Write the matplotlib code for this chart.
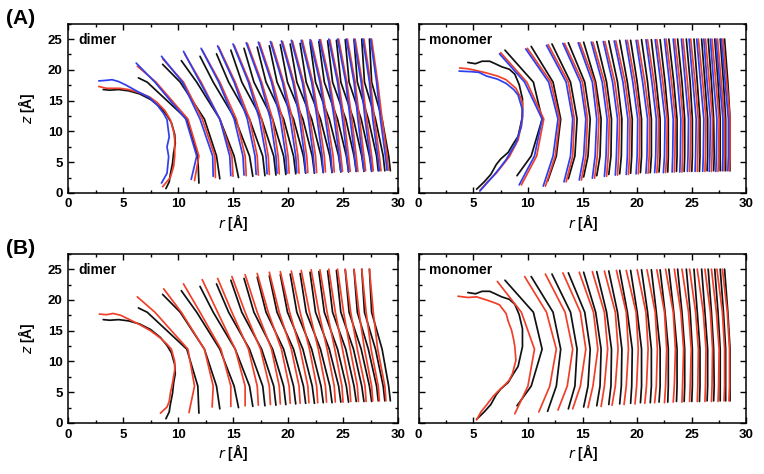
import matplotlib.pyplot as plt
from matplotlib.ticker import MultipleLocator

plt.rcParams['font.family'] = ['Liberation Sans', 'DejaVu Sans']

BLUE = "#2f3ff0"
RED = "#f0402a"
BLACK = "#111111"

# z levels at which the inner points of every curve are read
Z_MID = [18, 12, 6]

# ---------------- dimer, reference (black), used in (A) and (B)
dim_black_first_r = [3.2, 3.8, 4.6, 5.5, 6.5, 7.5, 8.4, 9.0, 9.4, 9.7, 9.75, 9.6, 9.5, 9.3, 9.2, 8.9]
dim_black_first_z = [16.8, 16.7, 16.8, 16.6, 16.1, 15.2, 13.9, 12.6, 11.4, 9.5, 8.0, 6.5, 4.8, 3.0, 1.8, 0.7]
dim_black_rt = [6.4, 8.6, 10.3, 12.0, 13.5, 14.8, 16.0, 17.2, 18.3, 19.3, 20.2, 21.1, 22.0, 22.8, 23.6, 24.4, 25.2, 26.0, 26.7, 27.4]
dim_black_zt = [18.7, 20.9, 21.5, 22.2, 22.6, 23.2, 23.5, 23.7, 23.9, 24.1, 24.2, 24.3, 24.5, 24.6, 24.7, 24.8, 24.9, 24.9, 25.0, 25.0]
dim_black_r18 = [7.2, 10.2, 11.7, 13.2, 14.6, 15.8, 16.9, 18.0, 19.0, 19.95, 20.8, 21.65, 22.5, 23.3, 24.05, 24.8, 25.55, 26.3, 26.95, 27.6]
dim_black_r12 = [10.8, 12.4, 13.8, 15.2, 16.5, 17.6, 18.6, 19.6, 20.5, 21.35, 22.15, 22.95, 23.75, 24.5, 25.25, 25.95, 26.65, 27.3, 27.95, 28.55]
dim_black_r6 = [11.8, 13.5, 15.1, 16.5, 17.7, 18.7, 19.6, 20.5, 21.4, 22.2, 23.0, 23.8, 24.6, 25.3, 26.0, 26.7, 27.4, 28.05, 28.65, 29.15]
dim_black_rb = [11.9, 13.8, 15.5, 16.8, 17.9, 18.9, 19.8, 20.7, 21.6, 22.4, 23.2, 24.0, 24.8, 25.5, 26.2, 26.9, 27.6, 28.2, 28.8, 29.3]
dim_black_zb = [1.6, 2.3, 2.5, 2.7, 2.8, 2.9, 3.0, 3.1, 3.2, 3.2, 3.3, 3.3, 3.4, 3.4, 3.5, 3.5, 3.5, 3.6, 3.6, 3.6]

# ---------------- dimer (A), blue
a_dim_blue_first_r = [2.8, 3.5, 4.0, 4.6, 5.3, 6.5, 7.4, 8.1, 8.7, 9.0, 9.2, 9.0, 9.15, 9.0, 8.5]
a_dim_blue_first_z = [18.2, 18.3, 18.4, 18.1, 17.5, 16.3, 15.5, 14.3, 12.9, 11.9, 9.1, 7.5, 5.9, 3.2, 1.6]
a_dim_blue_rt = [6.2, 8.5, 10.5, 12.1, 13.6, 15.0, 16.2, 17.3, 18.4, 19.4, 20.3, 21.2, 22.0, 22.85, 23.7, 24.5, 25.3, 26.0, 26.8, 27.5]
a_dim_blue_zt = [21.1, 22.2, 23.0, 23.5, 23.9, 24.2, 24.4, 24.5, 24.6, 24.7, 24.8, 24.8, 24.9, 24.9, 25.0, 25.0, 25.0, 25.0, 25.0, 25.0]
a_dim_blue_r18 = [7.9, 10.4, 12.0, 13.7, 15.1, 16.4, 17.5, 18.5, 19.5, 20.45, 21.3, 22.15, 22.9, 23.7, 24.5, 25.25, 26.0, 26.65, 27.4, 28.05]
a_dim_blue_r12 = [10.7, 12.0, 13.8, 15.1, 16.3, 17.4, 18.4, 19.3, 20.2, 21.05, 21.85, 22.65, 23.4, 24.2, 24.95, 25.65, 26.35, 27.0, 27.7, 28.4]
a_dim_blue_r6 = [11.7, 13.15, 14.7, 15.9, 17.0, 18.0, 18.9, 19.8, 20.7, 21.5, 22.3, 23.1, 23.9, 24.65, 25.35, 26.05, 26.75, 27.45, 28.15, 28.85]
a_dim_blue_rb = [11.2, 13.2, 14.8, 16.0, 17.1, 18.1, 19.0, 19.9, 20.8, 21.6, 22.4, 23.2, 24.0, 24.8, 25.5, 26.2, 26.9, 27.6, 28.3, 29.0]
a_dim_blue_zb = [2.2, 2.7, 2.8, 2.9, 3.0, 3.1, 3.2, 3.2, 3.3, 3.3, 3.4, 3.4, 3.4, 3.5, 3.5, 3.5, 3.6, 3.6, 3.6, 3.7]

# ---------------- dimer (A), red
a_dim_red_first_r = [2.8, 3.5, 4.7, 5.5, 6.5, 7.4, 8.1, 8.8, 9.3, 9.6, 9.7, 9.7, 9.6, 9.3, 8.6]
a_dim_red_first_z = [17.3, 17.0, 17.0, 16.8, 16.3, 15.6, 14.7, 13.4, 11.9, 10.0, 8.6, 6.0, 4.3, 2.5, 1.0]
a_dim_red_rt = [6.3, 8.6, 10.6, 12.2, 13.7, 15.1, 16.3, 17.4, 18.5, 19.5, 20.4, 21.3, 22.1, 22.95, 23.8, 24.6, 25.4, 26.1, 26.9, 27.6]
a_dim_red_zt = [20.6, 21.8, 22.6, 23.2, 23.7, 24.0, 24.3, 24.4, 24.5, 24.6, 24.7, 24.8, 24.8, 24.9, 24.9, 25.0, 25.0, 25.0, 25.0, 25.0]
a_dim_red_r18 = [8.0, 10.5, 12.1, 13.8, 15.2, 16.5, 17.6, 18.6, 19.6, 20.55, 21.4, 22.25, 23.0, 23.8, 24.6, 25.35, 26.1, 26.75, 27.5, 28.15]
a_dim_red_r12 = [10.9, 12.2, 13.8, 15.3, 16.5, 17.6, 18.6, 19.5, 20.4, 21.2, 22.0, 22.8, 23.55, 24.35, 25.1, 25.8, 26.5, 27.15, 27.85, 28.55]
a_dim_red_r6 = [11.9, 13.35, 14.9, 16.1, 17.2, 18.2, 19.1, 20.0, 20.9, 21.7, 22.5, 23.3, 24.1, 24.8, 25.5, 26.2, 26.9, 27.6, 28.3, 29.0]
a_dim_red_rb = [11.5, 13.4, 15.0, 16.2, 17.3, 18.3, 19.2, 20.1, 21.0, 21.8, 22.6, 23.4, 24.2, 24.95, 25.65, 26.35, 27.05, 27.75, 28.45, 29.1]
a_dim_red_zb = [2.0, 2.5, 2.7, 2.8, 2.9, 3.0, 3.1, 3.2, 3.2, 3.3, 3.3, 3.4, 3.4, 3.5, 3.5, 3.5, 3.6, 3.6, 3.6, 3.7]

# ---------------- dimer (B), red
b_dim_red_first_r = [2.85, 3.5, 4.1, 4.8, 5.6, 6.5, 7.5, 8.4, 9.0, 9.4, 9.7, 9.7, 9.5, 9.3, 9.2, 9.0, 8.4]
b_dim_red_first_z = [17.7, 17.6, 17.8, 17.5, 16.8, 16.0, 15.0, 13.8, 12.8, 12.0, 10.0, 8.6, 6.5, 4.8, 3.5, 2.6, 1.6]
b_dim_red_rt = [6.3, 8.7, 10.5, 12.2, 13.6, 14.9, 16.1, 17.2, 18.3, 19.3, 20.3, 21.2, 22.1, 22.9, 23.7, 24.5, 25.2, 26.0, 26.7, 27.4]
b_dim_red_zt = [20.5, 21.8, 22.6, 23.3, 23.5, 23.8, 24.1, 24.3, 24.5, 24.6, 24.7, 24.8, 24.9, 24.9, 25.0, 25.0, 25.0, 25.0, 25.0, 25.0]
b_dim_red_r18 = [7.9, 10.3, 12.0, 13.6, 14.9, 16.1, 17.2, 18.2, 19.2, 20.15, 21.1, 21.95, 22.8, 23.55, 24.3, 25.05, 25.7, 26.45, 27.1, 27.75]
b_dim_red_r12 = [10.9, 12.4, 13.9, 15.2, 16.4, 17.5, 18.5, 19.4, 20.3, 21.1, 21.95, 22.75, 23.55, 24.25, 24.95, 25.65, 26.3, 26.95, 27.55, 28.15]
b_dim_red_r6 = [11.5, 13.2, 14.8, 16.1, 17.2, 18.3, 19.2, 20.1, 21.0, 21.8, 22.6, 23.4, 24.2, 24.9, 25.6, 26.3, 27.0, 27.6, 28.2, 28.8]
b_dim_red_rb = [11.0, 13.1, 14.8, 16.1, 17.3, 18.4, 19.3, 20.2, 21.1, 21.9, 22.7, 23.5, 24.3, 25.0, 25.7, 26.4, 27.1, 27.7, 28.3, 28.9]
b_dim_red_zb = [1.7, 2.6, 2.7, 2.8, 2.9, 3.0, 3.1, 3.2, 3.2, 3.3, 3.3, 3.4, 3.4, 3.4, 3.5, 3.5, 3.5, 3.6, 3.6, 3.6]

# ---------------- monomer, reference (black), used in (A) and (B)
mon_black_first_r = [4.5, 5.2, 5.8, 6.5, 7.0, 7.6, 8.3, 8.8, 9.2, 9.5, 9.5, 9.1, 8.6, 8.2, 7.5, 7.1, 6.6, 6.0, 5.3]
mon_black_first_z = [21.2, 21.0, 21.4, 21.4, 21.0, 20.5, 20.1, 19.3, 17.6, 15.3, 12.4, 9.2, 7.8, 6.6, 5.5, 4.6, 3.0, 1.8, 0.6]
mon_black_rt = [7.9, 10.3, 12.2, 13.7, 15.1, 16.3, 17.4, 18.4, 19.4, 20.4, 21.3, 22.1, 22.9, 23.7, 24.5, 25.2, 25.9, 26.5, 27.1, 27.6, 28.0]
mon_black_zt = [23.2, 23.8, 24.2, 24.4, 24.5, 24.6, 24.7, 24.8, 24.8, 24.9, 24.9, 24.9, 25.0, 25.0, 25.0, 25.0, 25.0, 25.0, 25.0, 25.0, 25.0]
mon_black_r18 = [10.5, 12.3, 13.9, 15.2, 16.2, 17.2, 18.2, 19.1, 20.0, 20.95, 21.75, 22.55, 23.35, 24.1, 24.85, 25.5, 26.2, 26.8, 27.4, 27.9, 28.3]
mon_black_r12 = [11.3, 13.0, 14.5, 15.7, 16.7, 17.65, 18.6, 19.55, 20.4, 21.3, 22.1, 22.85, 23.65, 24.35, 25.05, 25.75, 26.45, 27.0, 27.6, 28.1, 28.5]
mon_black_r6 = [10.3, 12.6, 14.3, 15.5, 16.6, 17.6, 18.55, 19.5, 20.4, 21.3, 22.1, 22.85, 23.65, 24.35, 25.05, 25.75, 26.45, 27.05, 27.6, 28.1, 28.5]
mon_black_rb = [9.0, 11.8, 13.7, 15.1, 16.3, 17.4, 18.4, 19.4, 20.3, 21.2, 22.0, 22.8, 23.6, 24.3, 25.0, 25.7, 26.4, 27.0, 27.6, 28.1, 28.5]
mon_black_zb = [2.8, 1.9, 2.3, 2.6, 2.8, 3.0, 3.1, 3.2, 3.3, 3.3, 3.4, 3.4, 3.5, 3.5, 3.5, 3.5, 3.6, 3.6, 3.6, 3.6, 3.6]

# ---------------- monomer (A), blue
a_mon_blue_first_r = [3.7, 4.8, 5.5, 6.2, 7.2, 8.0, 8.7, 9.1, 9.5, 9.4, 8.9, 8.0, 7.4, 6.8, 6.2, 5.6]
a_mon_blue_first_z = [19.8, 19.7, 19.6, 19.0, 18.5, 17.8, 16.8, 15.9, 13.5, 10.8, 8.1, 5.4, 4.0, 2.7, 1.5, 0.3]
a_mon_blue_rt = [7.4, 9.8, 11.7, 13.2, 14.6, 15.8, 16.9, 17.9, 18.95, 19.9, 20.8, 21.65, 22.5, 23.3, 24.05, 24.75, 25.45, 26.1, 26.7, 27.2, 27.7]
a_mon_blue_zt = [22.6, 23.4, 24.0, 24.3, 24.4, 24.5, 24.6, 24.7, 24.8, 24.8, 24.9, 24.9, 25.0, 25.0, 25.0, 25.0, 25.0, 25.0, 25.0, 25.0, 25.0]
a_mon_blue_r18 = [9.7, 11.9, 13.5, 14.8, 15.9, 16.8, 17.75, 18.7, 19.6, 20.5, 21.35, 22.15, 22.95, 23.7, 24.4, 25.1, 25.8, 26.4, 27.0, 27.55, 28.05]
a_mon_blue_r12 = [11.3, 12.75, 14.1, 15.3, 16.3, 17.25, 18.2, 19.15, 20.05, 20.95, 21.75, 22.55, 23.3, 24.0, 24.7, 25.4, 26.1, 26.7, 27.3, 27.85, 28.35]
a_mon_blue_r6 = [10.6, 12.3, 13.9, 15.1, 16.15, 17.15, 18.1, 19.1, 20.0, 20.9, 21.7, 22.5, 23.25, 23.95, 24.65, 25.35, 26.05, 26.65, 27.25, 27.85, 28.35]
a_mon_blue_rb = [9.2, 11.4, 13.3, 14.7, 15.9, 17.0, 18.0, 19.0, 19.9, 20.8, 21.6, 22.4, 23.2, 23.9, 24.6, 25.3, 26.0, 26.6, 27.2, 27.8, 28.3]
a_mon_blue_zb = [1.3, 1.1, 1.8, 2.1, 2.4, 2.7, 2.9, 3.0, 3.1, 3.2, 3.3, 3.3, 3.4, 3.4, 3.5, 3.5, 3.5, 3.5, 3.5, 3.6, 3.6]

# ---------------- monomer (A), red
a_mon_red_first_r = [3.75, 4.4, 5.0, 6.2, 7.2, 8.0, 8.9, 9.3, 9.5, 9.5, 9.1, 8.3, 7.1, 6.3, 5.6]
a_mon_red_first_z = [20.3, 20.2, 20.0, 19.5, 19.0, 18.4, 17.0, 15.6, 14.6, 12.0, 8.6, 5.9, 3.2, 1.8, 0.4]
a_mon_red_rt = [7.5, 9.95, 11.85, 13.35, 14.75, 15.95, 17.05, 18.05, 19.1, 20.05, 20.95, 21.8, 22.65, 23.45, 24.2, 24.9, 25.6, 26.25, 26.85, 27.35, 27.85]
a_mon_red_zt = [22.8, 23.5, 24.1, 24.3, 24.4, 24.5, 24.6, 24.7, 24.8, 24.8, 24.9, 24.9, 25.0, 25.0, 25.0, 25.0, 25.0, 25.0, 25.0, 25.0, 25.0]
a_mon_red_r18 = [9.9, 12.1, 13.7, 15.0, 16.1, 17.0, 17.95, 18.9, 19.8, 20.7, 21.55, 22.35, 23.15, 23.9, 24.6, 25.3, 26.0, 26.6, 27.2, 27.7, 28.2]
a_mon_red_r12 = [11.45, 12.9, 14.25, 15.45, 16.5, 17.45, 18.4, 19.35, 20.25, 21.15, 21.95, 22.75, 23.5, 24.2, 24.9, 25.6, 26.3, 26.9, 27.5, 28.0, 28.5]
a_mon_red_r6 = [10.8, 12.5, 14.1, 15.3, 16.35, 17.35, 18.3, 19.3, 20.2, 21.1, 21.9, 22.7, 23.45, 24.15, 24.85, 25.55, 26.25, 26.85, 27.45, 28.0, 28.5]
a_mon_red_rb = [9.4, 11.6, 13.5, 14.9, 16.1, 17.2, 18.2, 19.2, 20.1, 21.0, 21.8, 22.6, 23.4, 24.1, 24.8, 25.5, 26.2, 26.8, 27.4, 27.95, 28.45]
a_mon_red_zb = [1.3, 1.1, 1.8, 2.1, 2.4, 2.7, 2.9, 3.0, 3.1, 3.2, 3.3, 3.3, 3.4, 3.4, 3.5, 3.5, 3.5, 3.5, 3.5, 3.6, 3.6]

# ---------------- monomer (B), red
b_mon_red_first_r = [3.6, 4.5, 5.3, 6.2, 7.0, 7.4, 8.0, 8.2, 8.5, 8.7, 8.8, 8.9, 8.6, 8.3, 8.0, 7.4, 6.8, 6.2, 5.7, 5.3]
b_mon_red_first_z = [20.6, 20.4, 20.5, 20.0, 19.5, 19.2, 17.8, 16.5, 15.1, 13.5, 12.4, 10.2, 8.1, 7.0, 6.4, 5.4, 4.3, 2.9, 1.8, 0.5]
b_mon_red_rt = [7.2, 9.7, 11.6, 13.2, 14.7, 15.9, 17.0, 18.1, 19.0, 20.0, 20.9, 21.8, 22.6, 23.4, 24.1, 24.8, 25.5, 26.2, 26.8, 27.3, 27.8]
b_mon_red_zt = [23.0, 23.8, 24.2, 24.4, 24.5, 24.6, 24.7, 24.8, 24.8, 24.9, 24.9, 24.9, 25.0, 25.0, 25.0, 25.0, 25.0, 25.0, 25.0, 25.0, 25.0]
b_mon_red_r18 = [9.4, 11.7, 13.4, 14.8, 16.0, 17.0, 18.0, 19.0, 19.9, 20.8, 21.65, 22.5, 23.3, 24.0, 24.7, 25.35, 26.05, 26.7, 27.25, 27.8, 28.25]
b_mon_red_r12 = [10.6, 12.6, 14.1, 15.3, 16.4, 17.3, 18.25, 19.2, 20.1, 21.0, 21.85, 22.7, 23.5, 24.25, 24.95, 25.6, 26.3, 26.9, 27.5, 28.0, 28.45]
b_mon_red_r6 = [10.0, 12.0, 13.6, 14.8, 15.95, 17.0, 18.0, 19.0, 19.95, 20.85, 21.75, 22.6, 23.4, 24.15, 24.85, 25.55, 26.25, 26.85, 27.45, 28.0, 28.45]
b_mon_red_rb = [8.8, 11.0, 12.75, 14.1, 15.5, 16.7, 17.7, 18.8, 19.8, 20.7, 21.6, 22.5, 23.3, 24.1, 24.8, 25.5, 26.2, 26.8, 27.4, 27.95, 28.4]
b_mon_red_zb = [1.5, 1.8, 2.1, 2.3, 2.5, 2.7, 2.9, 3.0, 3.1, 3.2, 3.3, 3.3, 3.4, 3.4, 3.5, 3.5, 3.5, 3.5, 3.5, 3.6, 3.6]


def build(first_r, first_z, rt, zt, r18, r12, r6, rb, zb):
    lines = [(first_r, first_z)]
    for k in range(len(rt)):
        lines.append(([rt[k], r18[k], r12[k], r6[k], rb[k]], [zt[k]] + Z_MID + [zb[k]]))
    return lines


dim_black = build(dim_black_first_r, dim_black_first_z, dim_black_rt, dim_black_zt, dim_black_r18,
                  dim_black_r12, dim_black_r6, dim_black_rb, dim_black_zb)
a_dim_blue = build(a_dim_blue_first_r, a_dim_blue_first_z, a_dim_blue_rt, a_dim_blue_zt, a_dim_blue_r18,
                   a_dim_blue_r12, a_dim_blue_r6, a_dim_blue_rb, a_dim_blue_zb)
a_dim_red = build(a_dim_red_first_r, a_dim_red_first_z, a_dim_red_rt, a_dim_red_zt, a_dim_red_r18,
                  a_dim_red_r12, a_dim_red_r6, a_dim_red_rb, a_dim_red_zb)
b_dim_red = build(b_dim_red_first_r, b_dim_red_first_z, b_dim_red_rt, b_dim_red_zt, b_dim_red_r18,
                  b_dim_red_r12, b_dim_red_r6, b_dim_red_rb, b_dim_red_zb)
mon_black = build(mon_black_first_r, mon_black_first_z, mon_black_rt, mon_black_zt, mon_black_r18,
                  mon_black_r12, mon_black_r6, mon_black_rb, mon_black_zb)
a_mon_blue = build(a_mon_blue_first_r, a_mon_blue_first_z, a_mon_blue_rt, a_mon_blue_zt, a_mon_blue_r18,
                   a_mon_blue_r12, a_mon_blue_r6, a_mon_blue_rb, a_mon_blue_zb)
a_mon_red = build(a_mon_red_first_r, a_mon_red_first_z, a_mon_red_rt, a_mon_red_zt, a_mon_red_r18,
                  a_mon_red_r12, a_mon_red_r6, a_mon_red_rb, a_mon_red_zb)
b_mon_red = build(b_mon_red_first_r, b_mon_red_first_z, b_mon_red_rt, b_mon_red_zt, b_mon_red_r18,
                  b_mon_red_r12, b_mon_red_r6, b_mon_red_rb, b_mon_red_zb)


def style_axes(ax, name, left):
    ax.set_xlim(0, 30)
    ax.set_ylim(0, 27.5)
    ax.xaxis.set_major_locator(MultipleLocator(5))
    ax.xaxis.set_minor_locator(MultipleLocator(2.5))
    ax.yaxis.set_major_locator(MultipleLocator(5))
    ax.yaxis.set_minor_locator(MultipleLocator(2.5))
    ax.tick_params(which='both', direction='in', top=True, right=True, width=1.0)
    ax.tick_params(which='major', length=4.5, labelsize=9.5, pad=4)
    ax.tick_params(which='minor', length=2.5)
    for lab in ax.get_xticklabels() + ax.get_yticklabels():
        lab.set_fontweight('bold')
    for sp in ax.spines.values():
        sp.set_linewidth(1.1)
    if not left:
        ax.tick_params(labelleft=False)
    else:
        ax.set_ylabel('$z$ [Å]', fontsize=10, fontweight='bold', labelpad=8)
    ax.set_xlabel('$r$ [Å]', fontsize=10, fontweight='bold', labelpad=1)
    ax.text(0.03, 0.905, name, transform=ax.transAxes, fontsize=10, fontweight='bold',
            ha='left', va='center')


def draw(ax, lines, color):
    for r, z in lines:
        ax.plot(r, z, color=color, lw=1.25, solid_joinstyle='round', solid_capstyle='round')


fig = plt.figure(figsize=(7.64, 4.74), dpi=100)
ax_ad = fig.add_axes([0.089, 0.593, 0.432, 0.357])
ax_am = fig.add_axes([0.548, 0.593, 0.429, 0.357])
ax_bd = fig.add_axes([0.089, 0.1076, 0.432, 0.357])
ax_bm = fig.add_axes([0.548, 0.1076, 0.429, 0.357])

draw(ax_ad, dim_black, BLACK)
draw(ax_ad, a_dim_red, RED)
draw(ax_ad, a_dim_blue, BLUE)
draw(ax_am, mon_black, BLACK)
draw(ax_am, a_mon_red, RED)
draw(ax_am, a_mon_blue, BLUE)
draw(ax_bd, dim_black, BLACK)
draw(ax_bd, b_dim_red, RED)
draw(ax_bm, mon_black, BLACK)
draw(ax_bm, b_mon_red, RED)

style_axes(ax_ad, 'dimer', True)
style_axes(ax_am, 'monomer', False)
style_axes(ax_bd, 'dimer', True)
style_axes(ax_bm, 'monomer', False)

fig.text(0.008, 0.96, '(A)', fontsize=15, fontweight='bold', ha='left', va='center')
fig.text(0.008, 0.476, '(B)', fontsize=15, fontweight='bold', ha='left', va='center')

fig.savefig('out.png', dpi=100)
